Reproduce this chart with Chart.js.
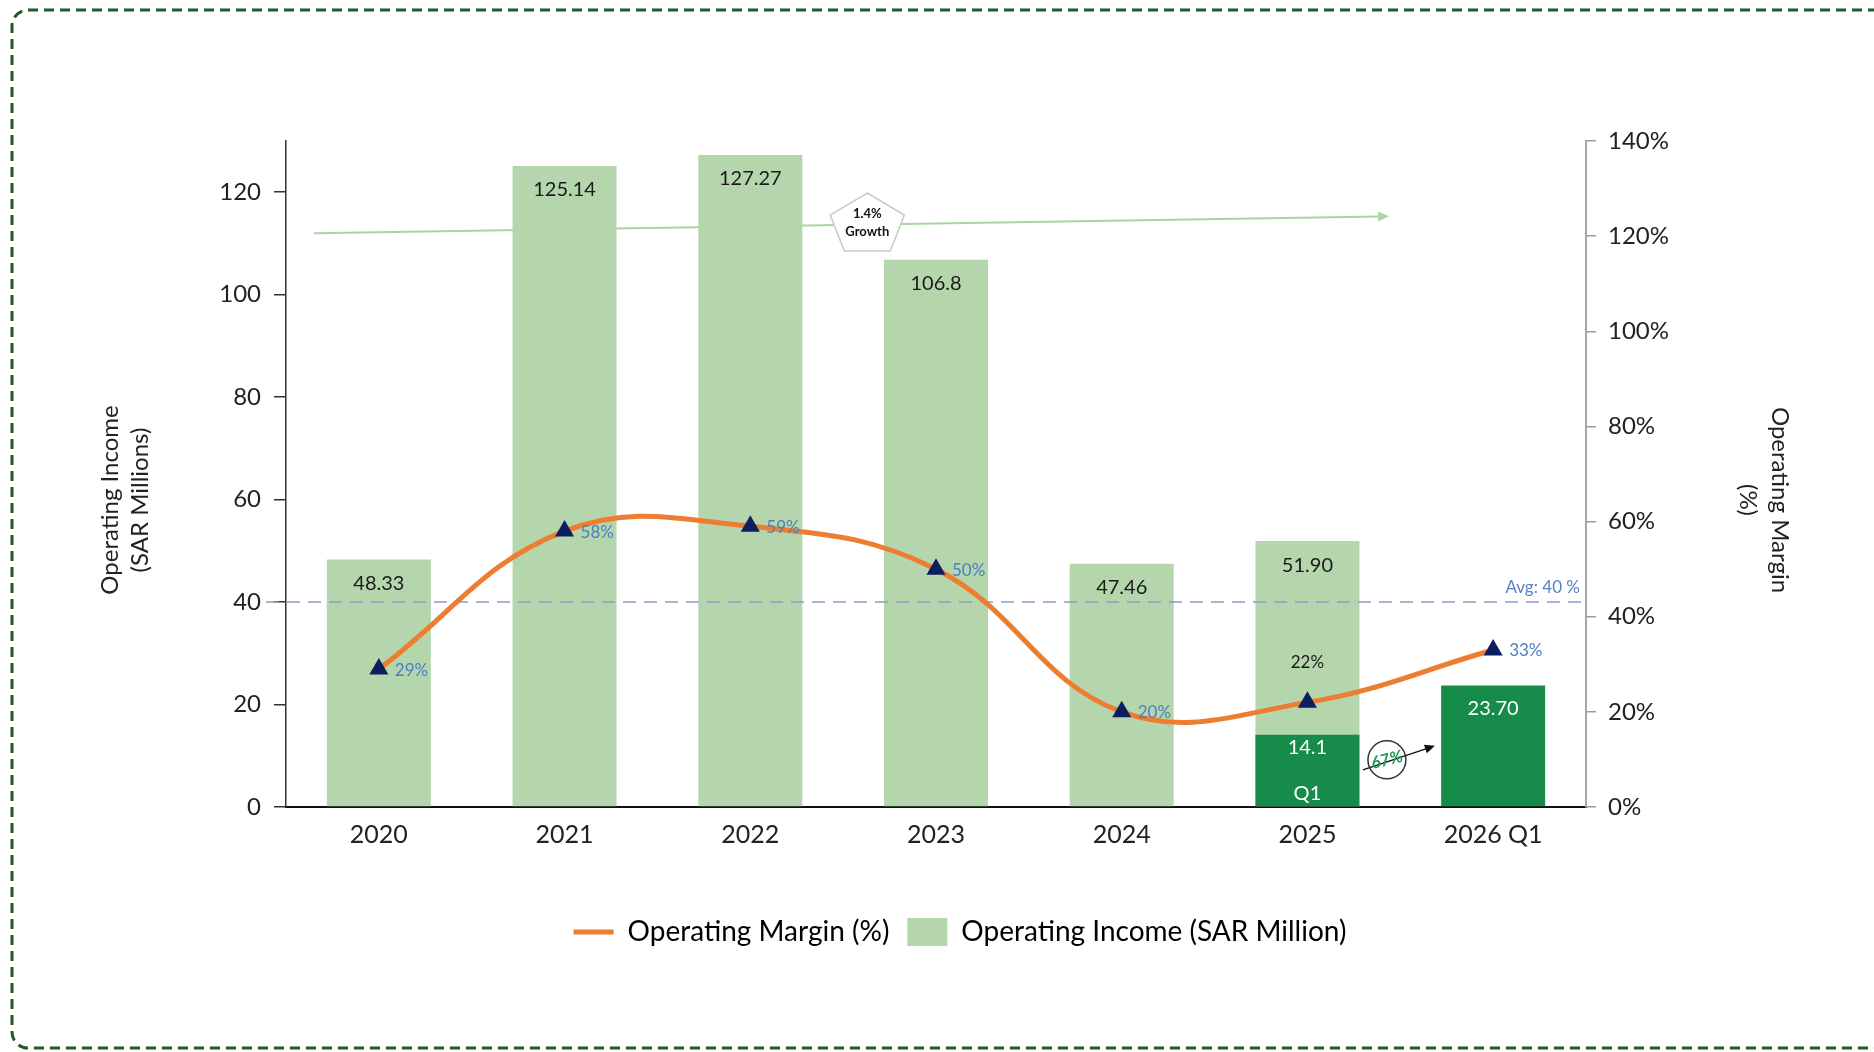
<!DOCTYPE html>
<html>
<head>
<meta charset="utf-8">
<script src="https://cdn.jsdelivr.net/npm/chart.js@4.4.1/dist/chart.umd.min.js"></script>
<style>
  html, body { margin:0; padding:0; background:#ffffff; width:1874px; height:1052px; overflow:hidden; }
  #frame { position:absolute; left:0; top:0; }
  #wrap { position:absolute; left:0; top:0; width:1920px; height:1052px; }
</style>
</head>
<body>
<svg id="frame" width="1874" height="1052">
  <rect x="12" y="10" width="2000" height="1038" rx="16" ry="16" fill="none" stroke="#1d5a27" stroke-width="3" stroke-dasharray="10 6"/>
</svg>
<div id="wrap"><canvas id="c" width="1920" height="1052"></canvas></div>
<script>
// ---------------- DATA ----------------
const categories      = ['2020', '2021', '2022', '2023', '2024', '2025', '2026 Q1'];
const operatingIncome = [48.33, 125.14, 127.27, 106.8, 47.46, 51.90, null];
const q1Income        = [null, null, null, null, null, 14.1, 23.70];
const operatingMargin = [29, 58, 59, 50, 20, 22, 33];
const incomeLabels    = ['48.33', '125.14', '127.27', '106.8', '47.46', '51.90', ''];
const q1Labels        = ['', '', '', '', '', '14.1', '23.70'];
const q1Tags          = ['', '', '', '', '', 'Q1', ''];
const marginLabels    = ['29%', '58%', '59%', '50%', '20%', '22%', '33%'];
const leftTicks       = [0, 20, 40, 60, 80, 100, 120];
const rightTicks      = [0, 20, 40, 60, 80, 100, 120, 140];
const averageMargin   = 40;
const averageLabel    = 'Avg: 40 %';
const growthLabel     = ['1.4%', 'Growth'];
const q1GrowthLabel   = '67%';
const leftAxisTitle   = ['Operating Income', '(SAR Millions)'];
const rightAxisTitle  = ['Operating Margin', '(%)'];
const legendMargin    = 'Operating Margin (%)';
const legendIncome    = 'Operating Income (SAR Million)';

// ---------------- STYLE ----------------
const ORANGE = '#ED7D31';
const LIGHT  = '#b5d6ad';
const DARK   = '#178b4a';
const NAVY   = '#0b1f5e';
const BLUE_LABEL = '#4a7fc0';
const FONT = 'Lato, "DejaVu Sans", sans-serif';

function arrow(ctx, x0, y0, x1, y1, head, color, width) {
  const a = Math.atan2(y1 - y0, x1 - x0);
  ctx.save();
  ctx.strokeStyle = color; ctx.fillStyle = color; ctx.lineWidth = width;
  ctx.beginPath(); ctx.moveTo(x0, y0);
  ctx.lineTo(x1 - head * 0.8 * Math.cos(a), y1 - head * 0.8 * Math.sin(a)); ctx.stroke();
  ctx.beginPath();
  ctx.moveTo(x1, y1);
  ctx.lineTo(x1 - head * Math.cos(a) + head * 0.45 * Math.sin(a), y1 - head * Math.sin(a) - head * 0.45 * Math.cos(a));
  ctx.lineTo(x1 - head * Math.cos(a) - head * 0.45 * Math.sin(a), y1 - head * Math.sin(a) + head * 0.45 * Math.cos(a));
  ctx.closePath(); ctx.fill();
  ctx.restore();
}

const growthArrowPlugin = {
  id: 'growthArrow',
  beforeDatasetsDraw(chart) {
    const x = chart.scales.x, y = chart.scales.y, ctx = chart.ctx;
    arrow(ctx, x.getPixelForValue(-0.35), y.getPixelForValue(112),
               x.getPixelForValue(5.44), y.getPixelForValue(115.3), 11, '#a9d5a1', 2);
  }
};

const avgLinePlugin = {
  id: 'avgLine',
  afterDatasetDraw(chart, args) {
    if (args.index !== 1) return;
    const ca = chart.chartArea, ctx = chart.ctx;
    const yy = chart.scales.y.getPixelForValue(averageMargin);
    ctx.save();
    ctx.strokeStyle = '#8d9cc4'; ctx.lineWidth = 1.5; ctx.setLineDash([13, 8]);
    ctx.beginPath(); ctx.moveTo(ca.left - 20, yy); ctx.lineTo(ca.right, yy); ctx.stroke();
    ctx.setLineDash([]);
    ctx.fillStyle = '#5a7fc6'; ctx.font = '17px ' + FONT;
    ctx.textAlign = 'right'; ctx.textBaseline = 'alphabetic';
    ctx.fillText(averageLabel, ca.right - 6, yy - 9);
    ctx.restore();
  }
};

const labelsPlugin = {
  id: 'valueLabels',
  afterDatasetsDraw(chart) {
    const ctx = chart.ctx;
    const mInc = chart.getDatasetMeta(0), mQ1 = chart.getDatasetMeta(1), mLine = chart.getDatasetMeta(2);
    ctx.save();
    ctx.textAlign = 'center'; ctx.textBaseline = 'middle';
    ctx.font = '20px ' + FONT; ctx.fillStyle = '#1a1a1a';
    mInc.data.forEach((bar, i) => {
      if (operatingIncome[i] == null) return;
      ctx.fillText(incomeLabels[i], bar.x, bar.y + 24);
    });
    ctx.fillStyle = '#ffffff';
    mQ1.data.forEach((bar, i) => {
      if (q1Income[i] == null) return;
      ctx.fillText(q1Labels[i], bar.x, bar.y + (i === 5 ? 13 : 23));
      if (q1Tags[i]) ctx.fillText(q1Tags[i], bar.x, bar.base - 13);
    });
    ctx.font = '17px ' + FONT;
    mLine.data.forEach((pt, i) => {
      if (i === 5) {
        ctx.fillStyle = '#1a1a1a'; ctx.textAlign = 'center';
        ctx.fillText(marginLabels[i], pt.x, pt.y - 40);
      } else {
        ctx.fillStyle = BLUE_LABEL; ctx.textAlign = 'left';
        ctx.fillText(marginLabels[i], pt.x + 16, pt.y + 1);
      }
    });
    ctx.restore();
  }
};

const annotationPlugin = {
  id: 'annotations',
  afterDraw(chart) {
    const ctx = chart.ctx, x = chart.scales.x, y = chart.scales.y;
    // pentagon "1.4% Growth"
    const cx = x.getPixelForValue(2.63), cy = y.getPixelForValue(113.6);
    const rx = 39, ry = 32;
    ctx.save();
    ctx.beginPath();
    for (let k = 0; k < 5; k++) {
      const a = -Math.PI / 2 + k * 2 * Math.PI / 5;
      const px = cx + rx * Math.cos(a), py = cy + ry * Math.sin(a);
      if (k === 0) ctx.moveTo(px, py); else ctx.lineTo(px, py);
    }
    ctx.closePath();
    ctx.fillStyle = '#ffffff'; ctx.fill();
    ctx.strokeStyle = '#c9c9c9'; ctx.lineWidth = 1.5; ctx.stroke();
    ctx.fillStyle = '#111'; ctx.font = 'bold 13px ' + FONT;
    ctx.textAlign = 'center'; ctx.textBaseline = 'middle';
    ctx.fillText(growthLabel[0], cx, cy - 11);
    ctx.fillText(growthLabel[1], cx, cy + 7);
    ctx.restore();

    // 67% circle with arrow
    const ox = x.getPixelForValue(5.428), oy = y.getPixelForValue(9.2);
    arrow(ctx, ox - 24, oy + 10, ox + 48, oy - 14, 10, '#111', 1.5);
    ctx.save();
    ctx.beginPath(); ctx.arc(ox, oy, 19, 0, Math.PI * 2);
    ctx.strokeStyle = '#333'; ctx.lineWidth = 1.5; ctx.stroke();
    ctx.translate(ox, oy); ctx.rotate(-0.25);
    ctx.fillStyle = '#1f9a55'; ctx.font = 'italic bold 17px ' + FONT;
    ctx.textAlign = 'center'; ctx.textBaseline = 'middle';
    ctx.fillText(q1GrowthLabel, 0, 0);
    ctx.restore();

    // axis titles
    ctx.save();
    ctx.fillStyle = '#222'; ctx.font = '24px ' + FONT;
    ctx.textAlign = 'center'; ctx.textBaseline = 'middle';
    ctx.translate(125, 500); ctx.rotate(-Math.PI / 2);
    ctx.fillText(leftAxisTitle[0], 0, -15);
    ctx.fillText(leftAxisTitle[1], 0, 15);
    ctx.restore();
    ctx.save();
    ctx.fillStyle = '#222'; ctx.font = '24px ' + FONT;
    ctx.textAlign = 'center'; ctx.textBaseline = 'middle';
    ctx.translate(1764, 500); ctx.rotate(Math.PI / 2);
    ctx.fillText(rightAxisTitle[0], 0, -16);
    ctx.fillText(rightAxisTitle[1], 0, 16);
    ctx.restore();
  }
};

new Chart(document.getElementById('c'), {
  type: 'bar',
  data: {
    labels: categories,
    datasets: [
      { type: 'bar', label: legendIncome, data: operatingIncome, backgroundColor: LIGHT,
        grouped: false, order: 2, yAxisID: 'y', barPercentage: 0.56, categoryPercentage: 1 },
      { type: 'bar', label: 'Q1 Operating Income', data: q1Income, backgroundColor: DARK,
        grouped: false, order: 1, yAxisID: 'y', barPercentage: 0.56, categoryPercentage: 1 },
      { type: 'line', label: legendMargin, data: operatingMargin, borderColor: ORANGE, borderWidth: 5,
        tension: 0.4, pointStyle: 'triangle', pointRadius: 11, pointBackgroundColor: NAVY,
        pointBorderColor: NAVY, pointBorderWidth: 0, order: 0, yAxisID: 'y1', fill: false }
    ]
  },
  options: {
    responsive: false,
    animation: false,
    layout: { padding: { left: 0, right: 0, top: 141, bottom: 96 } },
    plugins: {
      tooltip: { enabled: false },
      legend: {
        position: 'bottom',
        labels: {
          usePointStyle: true, pointStyleWidth: 40, boxHeight: 30, padding: 18,
          color: '#1a1a1a', font: { family: FONT, size: 28 },
          generateLabels: () => [
            { text: legendMargin, fillStyle: ORANGE, strokeStyle: ORANGE, lineWidth: 5, pointStyle: 'line', datasetIndex: 2, hidden: false },
            { text: legendIncome, fillStyle: LIGHT, strokeStyle: LIGHT, lineWidth: 0, pointStyle: 'rect', datasetIndex: 0, hidden: false }
          ]
        }
      }
    },
    scales: {
      x: {
        grid: { display: false },
        border: { display: true, color: '#111', width: 2 },
        ticks: { color: '#222', font: { family: FONT, size: 25 }, padding: 5 },
        afterFit(s) { s.height = 93; }
      },
      y: {
        position: 'left', min: 0, max: 130,
        afterBuildTicks(s) { s.ticks = leftTicks.map(v => ({ value: v })); },
        grid: { drawOnChartArea: false, drawTicks: true, tickLength: 12, color: '#333', lineWidth: 1.5 },
        border: { display: true, color: '#333', width: 1.5 },
        ticks: { color: '#222', font: { family: FONT, size: 24 }, padding: 13 },
        afterFit(s) { s.width = 286; }
      },
      y1: {
        position: 'right', min: 0, max: 140,
        afterBuildTicks(s) { s.ticks = rightTicks.map(v => ({ value: v })); },
        grid: { drawOnChartArea: false, drawTicks: true, tickLength: 10, color: '#9a9a9a', lineWidth: 1.5 },
        border: { display: true, color: '#a6a6a6', width: 2 },
        ticks: { color: '#222', font: { family: FONT, size: 24 }, padding: 12, callback: v => v + '%' },
        afterFit(s) { s.width = 334; }
      }
    }
  },
  plugins: [growthArrowPlugin, avgLinePlugin, labelsPlugin, annotationPlugin]
});
</script>
</body>
</html>
